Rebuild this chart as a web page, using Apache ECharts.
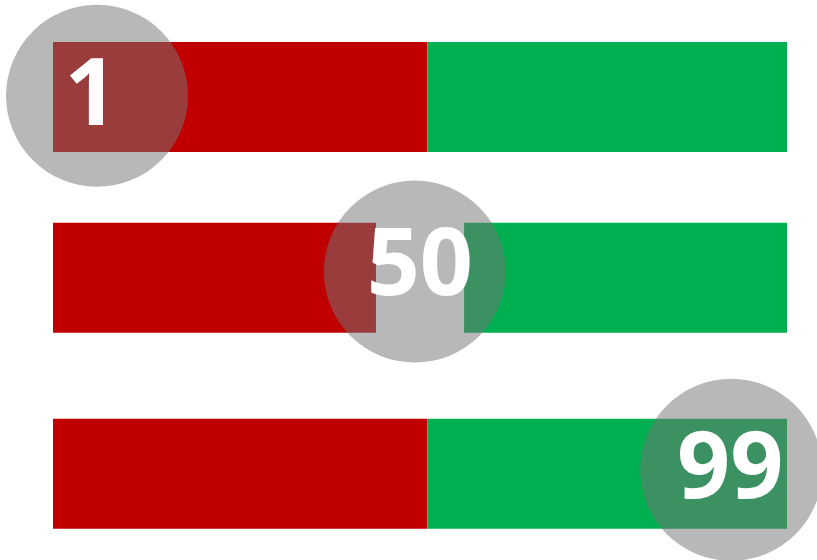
<!DOCTYPE html>
<html>
<head>
<meta charset="utf-8">
<script src="https://cdn.jsdelivr.net/npm/echarts@6/dist/echarts.min.js"></script>
<style>html,body{margin:0;padding:0;background:#fff}#c{width:817px;height:560px}</style>
</head>
<body>
<div id="c"></div>
<script>
// Row positions on the vertical value axis (0 top .. 100 bottom)
var rowY = [17.3, 49.6, 84.6];
// Red segment ranges per row [start, end]
var redStart = [0, 0, 0];
var redEnd = [51, 44, 51];
// Green segment ranges per row
var greenStart = [51, 56, 51];
var greenEnd = [100, 100, 100];
// Bubbles
var bubbleX = [6, 49.3, 92.4];
var bubbleY = [17.1, 48.5, 83.9];
var bubbleLabel = ['1', '50', '99'];

// label nudges (style only)
var labelNudge = [[-6, 3], [5, -3], [-1, 2]];

function segData(s, e) {
  return rowY.map(function (y, i) { return [s[i], e[i], y]; });
}
function renderSeg(params, api) {
  var p0 = api.coord([api.value(0), api.value(2)]);
  var p1 = api.coord([api.value(1), api.value(2)]);
  var h = 110;
  return {
    type: 'rect',
    shape: { x: p0[0], y: p0[1] - h / 2, width: p1[0] - p0[0], height: h },
    style: { fill: api.visual('color') }
  };
}

var chart = echarts.init(document.getElementById('c'), null, { renderer: 'canvas' });
chart.setOption({
  animation: false,
  grid: { left: 53, right: 30, top: 0, bottom: 0 },
  xAxis: { type: 'value', min: 0, max: 100, show: false },
  yAxis: { type: 'value', min: 0, max: 100, inverse: true, show: false },
  series: [
    { type: 'custom', renderItem: renderSeg, itemStyle: { color: '#C00000' },
      encode: { x: [0, 1], y: 2 }, data: segData(redStart, redEnd), z: 1 },
    { type: 'custom', renderItem: renderSeg, itemStyle: { color: '#00B050' },
      encode: { x: [0, 1], y: 2 }, data: segData(greenStart, greenEnd), z: 1 },
    { type: 'scatter', symbol: 'circle', symbolSize: 182, clip: false, z: 5,
      itemStyle: { color: 'rgba(118,116,117,0.51)', opacity: 1 },
      emphasis: { disabled: true },
      label: { show: true, position: 'inside', color: '#fff', fontSize: 93,
        fontWeight: 'bold', fontFamily: 'Open Sans',
        formatter: function (p) { return bubbleLabel[p.dataIndex]; } },
      data: bubbleX.map(function (x, i) {
        return { value: [x, bubbleY[i]], label: { offset: labelNudge[i] } };
      }) }
  ]
});
</script>
</body>
</html>
